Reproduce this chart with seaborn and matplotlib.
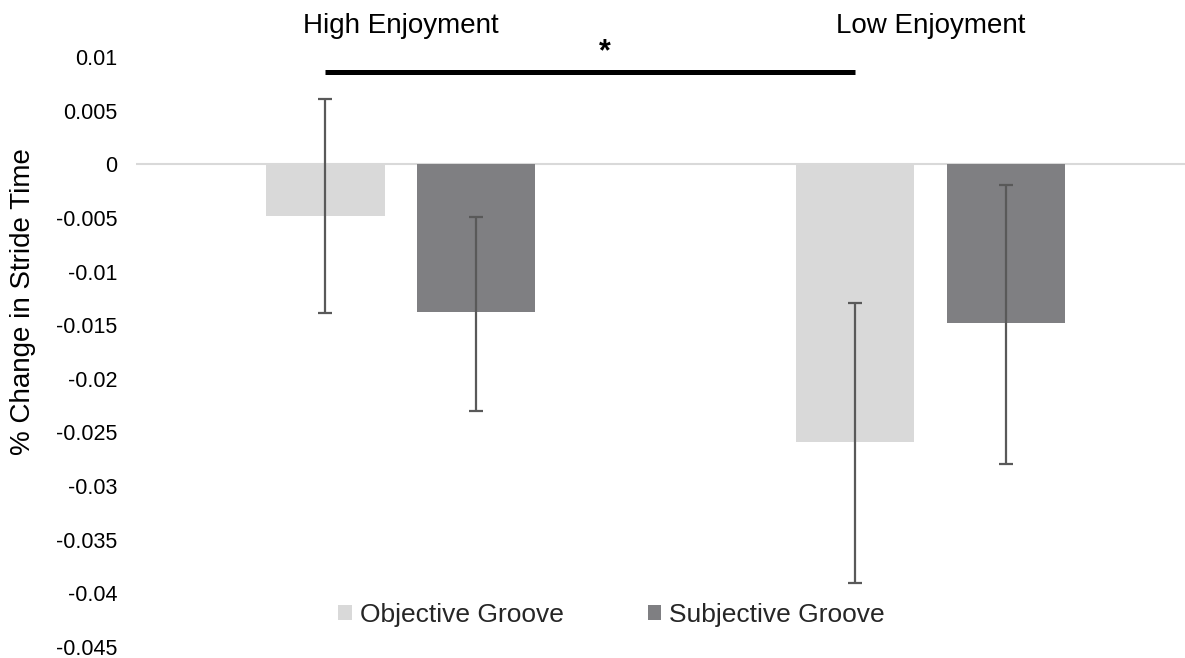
import numpy as np
import pandas as pd
import matplotlib
matplotlib.use("Agg")
import matplotlib.pyplot as plt
import seaborn as sns

# Mean change in stride time per enjoyment condition and groove type
categories = ["High Enjoyment", "Low Enjoyment"]
groups = ["Objective Groove", "Subjective Groove"]
objective_mean = [-0.0048, -0.0259]
subjective_mean = [-0.0138, -0.0148]
# Error bar ends (lower, upper)
objective_low = [-0.0139, -0.0390]
objective_high = [0.0061, -0.0129]
subjective_low = [-0.0230, -0.0279]
subjective_high = [-0.0049, -0.0019]

ytick_values = [0.01, 0.005, 0, -0.005, -0.01, -0.015, -0.02, -0.025,
                -0.03, -0.035, -0.04, -0.045]
ytick_labels = ["0.01", "0.005", "0", "-0.005", "-0.01", "-0.015", "-0.02",
                "-0.025", "-0.03", "-0.035", "-0.04", "-0.045"]

light_grey = "#d9d9d9"
dark_grey = "#7f7e83"
err_grey = "#595959"

df = pd.DataFrame({
    "Enjoyment": categories * 2,
    "Groove": [groups[0]] * len(categories) + [groups[1]] * len(categories),
    "Change": objective_mean + subjective_mean,
})

sns.set_theme(style="white")
plt.rcParams["font.family"] = ["Liberation Sans", "DejaVu Sans"]

W, H = 1185, 658
fig = plt.figure(figsize=(W / 100, H / 100), dpi=100)
ax = fig.add_axes([136 / W, 11 / H, 1049 / W, 590 / H])

sns.barplot(data=df, x="Enjoyment", y="Change", hue="Groove",
            order=categories, hue_order=groups,
            palette=[light_grey, dark_grey], width=0.570, gap=0.215,
            errorbar=None, linewidth=0, ax=ax, zorder=2)

# Error bars placed on the drawn bars
lows = [objective_low, subjective_low]
highs = [objective_high, subjective_high]
centers = []
for container, lo, hi in zip(ax.containers, lows, highs):
    xs = np.array([b.get_x() + b.get_width() / 2 for b in container])
    ys = np.array([b.get_height() for b in container])
    centers.append(xs)
    yerr = np.vstack([ys - np.array(lo), np.array(hi) - ys])
    ax.errorbar(xs, ys, yerr=yerr, fmt="none", ecolor=err_grey,
                elinewidth=1.6, capsize=5, capthick=1.6, zorder=3)

# Zero line
ax.axhline(0, color=light_grey, lw=1.5, zorder=1)

# Significance bracket between the objective-groove bars
x0, x1 = centers[0][0], centers[0][1]
ax.plot([x0, x1], [0.0086, 0.0086], color="black", lw=3.6,
        solid_capstyle="butt", clip_on=False, zorder=4)
ax.text(x0 + 0.528 * (x1 - x0), 0.0104, "*", ha="center", va="center",
        fontsize=22, fontweight="bold", color="black")

ax.set_ylim(-0.045, 0.01)
ax.set_xlim(-0.5, 1.481)
ax.set_yticks(ytick_values)
ax.set_yticklabels(ytick_labels)
ax.tick_params(axis="y", length=0, pad=13.5, labelsize=15.5, labelcolor="black")

ax.xaxis.tick_top()
ax.tick_params(axis="x", length=0, pad=13, labelsize=20, labelcolor="black")
ax.set_xlabel("")
ax.set_ylabel("")
for s in ax.spines.values():
    s.set_visible(False)

fig.text(23 / W, 1 - 301.5 / H, "% Change in Stride Time", rotation=90,
         ha="center", va="center", fontsize=20, color="black")

handles, labels = ax.get_legend_handles_labels()
ax.legend(handles, labels, loc="center",
          bbox_to_anchor=(611.5 / W, 1 - 615 / H),
          bbox_transform=fig.transFigure, ncol=2, frameon=False,
          fontsize=19, handlelength=0.5, handleheight=0.5,
          handletextpad=0.3, columnspacing=3.2, borderpad=0)

fig.savefig("out.png", dpi=100)
